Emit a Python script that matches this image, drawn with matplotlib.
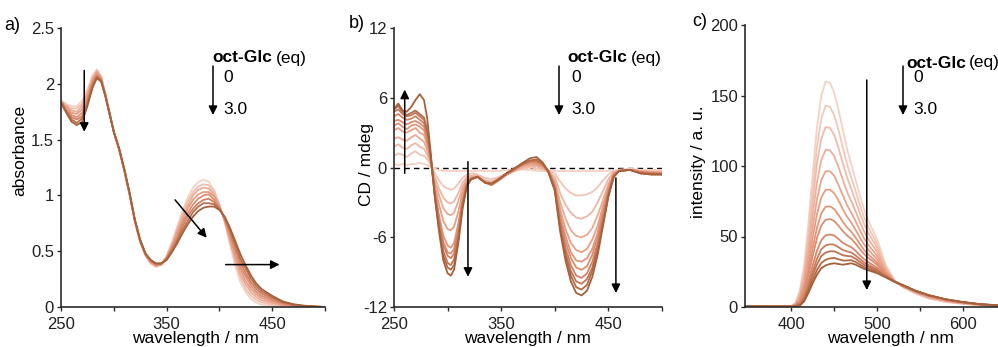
import numpy as np
import matplotlib
matplotlib.use("Agg")
import matplotlib.pyplot as plt
from matplotlib.colors import LinearSegmentedColormap

plt.rcParams['font.family'] = ['Liberation Sans', 'DejaVu Sans']
plt.rcParams['axes.unicode_minus'] = False

# ---------------- data ----------------
# a) absorbance, one row per wavelength, columns 0 eq ... 3.0 eq
abs_wl = [250, 255, 260, 265, 270, 275, 280, 284, 288, 292, 296, 300, 305, 310, 315,
          320, 325, 330, 335, 340, 345, 350, 355, 360, 365, 370, 375, 380, 385, 390,
          395, 400, 405, 410, 415, 420, 425, 430, 435, 440, 450, 460, 470, 480, 490, 500]
abs_rows = [
    [1.85, 1.85, 1.84, 1.84, 1.84, 1.84, 1.83, 1.83],
    [1.82, 1.81, 1.80, 1.79, 1.77, 1.76, 1.75, 1.74],
    [1.80, 1.78, 1.76, 1.74, 1.72, 1.70, 1.68, 1.66],
    [1.80, 1.78, 1.75, 1.73, 1.70, 1.68, 1.65, 1.63],
    [1.85, 1.82, 1.80, 1.77, 1.74, 1.71, 1.69, 1.66],
    [1.95, 1.93, 1.91, 1.89, 1.86, 1.84, 1.82, 1.80],
    [2.08, 2.06, 2.05, 2.03, 2.02, 2.00, 1.98, 1.97],
    [2.13, 2.12, 2.11, 2.10, 2.08, 2.07, 2.06, 2.05],
    [2.07, 2.06, 2.06, 2.05, 2.04, 2.03, 2.03, 2.02],
    [1.91, 1.91, 1.90, 1.90, 1.90, 1.90, 1.89, 1.89],
    [1.74, 1.74, 1.74, 1.74, 1.73, 1.73, 1.73, 1.73],
    [1.57, 1.57, 1.57, 1.57, 1.57, 1.57, 1.57, 1.57],
    [1.41, 1.41, 1.41, 1.41, 1.42, 1.42, 1.42, 1.42],
    [1.22, 1.22, 1.22, 1.22, 1.23, 1.23, 1.23, 1.23],
    [1.00, 1.00, 1.01, 1.01, 1.01, 1.01, 1.02, 1.02],
    [0.76, 0.76, 0.77, 0.77, 0.77, 0.77, 0.78, 0.78],
    [0.58, 0.58, 0.59, 0.59, 0.59, 0.59, 0.60, 0.60],
    [0.46, 0.46, 0.47, 0.47, 0.47, 0.47, 0.48, 0.48],
    [0.39, 0.39, 0.40, 0.40, 0.41, 0.41, 0.42, 0.42],
    [0.36, 0.36, 0.37, 0.37, 0.38, 0.38, 0.39, 0.39],
    [0.38, 0.38, 0.38, 0.38, 0.39, 0.39, 0.39, 0.39],
    [0.46, 0.45, 0.45, 0.44, 0.44, 0.43, 0.43, 0.42],
    [0.58, 0.57, 0.55, 0.54, 0.53, 0.52, 0.50, 0.49],
    [0.72, 0.70, 0.68, 0.66, 0.63, 0.61, 0.59, 0.57],
    [0.86, 0.83, 0.80, 0.77, 0.75, 0.72, 0.69, 0.66],
    [0.98, 0.95, 0.91, 0.88, 0.84, 0.81, 0.77, 0.74],
    [1.07, 1.03, 1.00, 0.96, 0.92, 0.88, 0.85, 0.81],
    [1.12, 1.08, 1.05, 1.01, 0.97, 0.93, 0.90, 0.86],
    [1.14, 1.10, 1.07, 1.03, 1.00, 0.96, 0.93, 0.89],
    [1.12, 1.09, 1.06, 1.03, 1.01, 0.97, 0.93, 0.90],
    [1.05, 1.03, 1.01, 0.99, 0.96, 0.94, 0.92, 0.90],
    [0.92, 0.91, 0.91, 0.90, 0.89, 0.88, 0.88, 0.87],
    [0.76, 0.77, 0.77, 0.78, 0.79, 0.80, 0.80, 0.81],
    [0.56, 0.58, 0.60, 0.62, 0.65, 0.67, 0.69, 0.71],
    [0.37, 0.40, 0.43, 0.46, 0.50, 0.53, 0.56, 0.59],
    [0.22, 0.26, 0.29, 0.33, 0.36, 0.40, 0.43, 0.47],
    [0.13, 0.16, 0.20, 0.23, 0.27, 0.30, 0.34, 0.37],
    [0.07, 0.10, 0.13, 0.16, 0.19, 0.22, 0.25, 0.28],
    [0.04, 0.064, 0.089, 0.113, 0.137, 0.161, 0.186, 0.21],
    [0.02, 0.04, 0.06, 0.08, 0.10, 0.12, 0.14, 0.16],
    [0.01, 0.023, 0.036, 0.049, 0.061, 0.074, 0.087, 0.10],
    [0.0, 0.007, 0.014, 0.021, 0.029, 0.036, 0.043, 0.05],
    [0.0, 0.004, 0.007, 0.011, 0.014, 0.018, 0.021, 0.025],
    [0.0, 0.002, 0.003, 0.005, 0.007, 0.009, 0.010, 0.012],
    [0.0, 0.001, 0.001, 0.002, 0.003, 0.004, 0.004, 0.005],
    [0.0, 0.0, 0.0, 0.0, 0.0, 0.0, 0.0, 0.0],
]

# b) CD, one row per wavelength, columns 0 eq ... 3.0 eq
cd_wl = [250, 254, 258, 262, 266, 270, 274, 278, 281, 284, 288, 292, 296, 300, 303, 306,
         310, 314, 318, 322, 328, 335, 341, 348, 355, 362, 370, 377, 383, 389, 394, 400,
         405, 410, 415, 420, 425, 430, 435, 440, 445, 450, 455, 460, 470, 480, 490, 500]
cd_rows = [
    [0.3, 1.0, 1.8, 2.5, 3.2, 3.6, 4.0, 4.4, 4.8, 5.0, 5.0],
    [0.2, 1.2, 2.0, 2.6, 3.4, 3.8, 4.1, 4.6, 5.0, 5.3, 5.5],
    [0.3, 1.1, 1.7, 2.4, 3.1, 3.5, 3.9, 4.3, 4.6, 4.8, 4.9],
    [0.2, 0.9, 1.6, 2.3, 3.0, 3.3, 3.7, 4.1, 4.4, 4.5, 4.8],
    [0.3, 1.2, 1.9, 2.6, 3.2, 3.6, 3.9, 4.2, 4.5, 4.7, 5.2],
    [0.3, 1.4, 2.1, 2.8, 3.4, 3.7, 4.0, 4.4, 4.7, 4.9, 5.8],
    [0.4, 1.1, 1.8, 2.5, 3.0, 3.5, 3.8, 4.1, 4.4, 4.6, 6.3],
    [0.3, 1.0, 1.6, 2.2, 2.8, 3.2, 3.5, 3.8, 4.1, 4.3, 5.8],
    [0.2, 0.7, 1.1, 1.5, 1.9, 2.3, 2.5, 2.8, 3.0, 3.2, 4.2],
    [0.1, 0.3, 0.4, 0.5, 0.6, 0.8, 0.9, 1.0, 1.1, 1.2, 1.5],
    [-0.1, -0.5, -0.8, -1.1, -1.5, -1.9, -2.0, -2.1, -2.3, -2.4, -2.5],
    [-0.2, -1.1, -1.8, -2.4, -3.2, -4.1, -4.4, -4.6, -5.0, -5.2, -5.5],
    [-0.3, -1.6, -2.6, -3.5, -4.6, -5.9, -6.4, -6.7, -7.2, -7.6, -8.0],
    [-0.3, -1.8, -3.0, -4.0, -5.3, -6.7, -7.3, -7.6, -8.2, -8.6, -9.1],
    [-0.3, -1.9, -3.1, -4.1, -5.4, -6.9, -7.4, -7.8, -8.4, -8.8, -9.3],
    [-0.3, -1.8, -2.9, -3.9, -5.1, -6.5, -7.0, -7.4, -7.9, -8.4, -8.8],
    [-0.3, -1.4, -2.2, -2.9, -3.8, -4.8, -5.2, -5.5, -5.9, -6.2, -6.5],
    [-0.3, -0.9, -1.3, -1.7, -2.1, -2.6, -2.8, -3.0, -3.2, -3.3, -3.5],
    [-0.3, -0.6, -0.8, -1.0, -1.1, -1.3, -1.4, -1.4, -1.5, -1.5, -1.6],
    [-0.3, -0.5, -0.7, -0.8, -0.9, -0.9, -1.0, -1.0, -1.0, -1.0, -1.0],
    [-0.3, -0.6, -0.7, -0.8, -0.8, -0.8, -0.8, -0.8, -0.8, -0.8, -0.8],
    [-0.3, -0.9, -1.1, -1.2, -1.3, -1.3, -1.3, -1.3, -1.3, -1.3, -1.3],
    [-0.3, -1.0, -1.2, -1.3, -1.4, -1.5, -1.5, -1.5, -1.4, -1.4, -1.4],
    [-0.3, -0.8, -0.9, -1.0, -1.0, -1.1, -1.1, -1.0, -1.0, -1.0, -1.0],
    [-0.2, -0.5, -0.6, -0.6, -0.6, -0.6, -0.6, -0.6, -0.5, -0.5, -0.5],
    [-0.2, -0.3, -0.3, -0.3, -0.2, -0.2, -0.2, -0.2, -0.1, -0.1, -0.1],
    [-0.2, -0.1, 0.0, 0.1, 0.2, 0.2, 0.3, 0.3, 0.3, 0.3, 0.4],
    [-0.2, 0.0, 0.1, 0.2, 0.3, 0.4, 0.5, 0.5, 0.6, 0.6, 0.8],
    [-0.3, -0.1, 0.1, 0.2, 0.3, 0.4, 0.5, 0.5, 0.6, 0.7, 0.9],
    [-0.3, -0.2, -0.1, 0.0, 0.1, 0.1, 0.2, 0.2, 0.3, 0.3, 0.4],
    [-0.3, -0.3, -0.3, -0.3, -0.3, -0.3, -0.3, -0.3, -0.3, -0.4, -0.4],
    [-0.3, -0.5, -0.8, -1.1, -1.3, -1.5, -1.6, -1.7, -1.8, -1.9, -2.0],
    [-0.3, -1.2, -2.2, -3.0, -3.6, -4.1, -4.4, -4.7, -5.0, -5.2, -5.5],
    [-0.3, -1.8, -3.2, -4.4, -5.3, -5.9, -6.4, -6.9, -7.3, -7.6, -8.0],
    [-0.3, -2.2, -3.9, -5.4, -6.5, -7.3, -7.8, -8.4, -8.9, -9.3, -9.8],
    [-0.3, -2.4, -4.3, -5.9, -7.1, -8.0, -8.6, -9.3, -9.8, -10.3, -10.8],
    [-0.3, -2.4, -4.4, -6.0, -7.3, -8.1, -8.8, -9.5, -10.0, -10.5, -11.0],
    [-0.3, -2.3, -4.2, -5.8, -7.0, -7.8, -8.5, -9.1, -9.6, -10.1, -10.6],
    [-0.3, -2.1, -3.8, -5.2, -6.2, -7.0, -7.5, -8.1, -8.6, -8.9, -9.4],
    [-0.3, -1.7, -3.0, -4.1, -5.0, -5.6, -6.0, -6.5, -6.8, -7.1, -7.5],
    [-0.3, -1.1, -2.0, -2.8, -3.3, -3.7, -4.0, -4.3, -4.6, -4.8, -5.0],
    [-0.3, -0.6, -1.0, -1.4, -1.7, -1.9, -2.0, -2.2, -2.3, -2.4, -2.5],
    [-0.3, -0.3, -0.4, -0.5, -0.5, -0.6, -0.6, -0.7, -0.7, -0.8, -0.8],
    [-0.2, -0.2, -0.2, -0.3, -0.3, -0.3, -0.3, -0.3, -0.3, -0.3, -0.3],
    [-0.1, -0.2, -0.2, -0.2, -0.2, -0.2, -0.2, -0.2, -0.2, -0.2, -0.2],
    [-0.2, -0.3, -0.3, -0.3, -0.4, -0.4, -0.4, -0.4, -0.5, -0.5, -0.5],
    [-0.2, -0.3, -0.4, -0.4, -0.4, -0.5, -0.5, -0.5, -0.5, -0.6, -0.6],
    [-0.2, -0.3, -0.4, -0.4, -0.5, -0.5, -0.5, -0.5, -0.6, -0.6, -0.6],
]

# c) fluorescence, one list per spectrum (0 eq first)
fl_wl = [345, 380, 400, 405, 410, 415, 420, 425, 430, 435, 440, 445, 450, 455, 460, 465,
         470, 475, 480, 485, 490, 500, 510, 520, 530, 545, 560, 580, 600, 620, 645]
fl_curves = [
    [0.5, 0.3, 0.5, 3, 12, 30, 60, 95, 128, 150, 160, 159, 152, 140, 126, 112, 101, 90, 79, 69, 61, 48, 30, 19, 14, 9.5, 6, 3.5, 2.2, 1.2, 0.6],
    [0.5, 0.3, 0.5, 2.7, 10.5, 26.6, 53.4, 84.7, 114.1, 133.8, 142.8, 142, 136, 125.5, 113.3, 101.2, 91.8, 82.1, 72.3, 63.5, 56.4, 44.8, 28.8, 18.9, 14.2, 9.8, 6.3, 3.8, 2.4, 1.3, 0.65],
    [0.5, 0.3, 0.5, 2.4, 9.3, 23.6, 47.6, 75.7, 102, 119.6, 127.6, 127.1, 122, 112.8, 102.2, 91.8, 83.6, 75.1, 66.5, 58.6, 52.3, 42, 27.8, 18.8, 14.4, 10, 6.6, 4, 2.5, 1.4, 0.7],
    [0.5, 0.3, 0.4, 2.1, 7.9, 20.3, 41.4, 66, 88.9, 104.4, 111.5, 111.2, 107, 99.3, 90.3, 81.7, 75, 67.7, 60.2, 53.4, 48, 39.1, 26.7, 18.6, 14.6, 10.2, 6.9, 4.2, 2.7, 1.5, 0.75],
    [0.5, 0.3, 0.4, 1.8, 6.6, 17.3, 35.6, 56.9, 76.8, 90.2, 96.3, 96.3, 93, 86.6, 79.2, 72.2, 66.8, 60.7, 54.4, 48.5, 43.9, 36.3, 25.6, 18.5, 14.7, 10.5, 7.2, 4.5, 2.8, 1.6, 0.8],
    [0.5, 0.3, 0.4, 1.5, 5.5, 14.7, 30.6, 49.1, 66.2, 77.8, 83.1, 83.3, 80.7, 75.5, 69.5, 64, 59.8, 54.7, 49.3, 44.3, 40.4, 33.9, 24.7, 18.4, 14.9, 10.7, 7.5, 4.7, 3, 1.7, 0.84],
    [0.5, 0.3, 0.4, 1.3, 4.5, 12.3, 25.9, 41.8, 56.4, 66.5, 71, 71.4, 69.5, 65.3, 60.5, 56.4, 53.3, 49.1, 44.6, 40.4, 37.1, 31.6, 23.9, 18.3, 15, 10.9, 7.7, 4.9, 3.1, 1.75, 0.87],
    [0.5, 0.3, 0.3, 1.1, 3.7, 10.4, 22.4, 36.3, 49, 57.9, 61.9, 62.4, 61, 57.7, 53.8, 50.7, 48.4, 44.9, 41, 37.4, 34.7, 30, 23.2, 18.2, 15.1, 11, 7.9, 5, 3.2, 1.8, 0.9],
    [0.5, 0.3, 0.3, 0.9, 2.8, 8.2, 18.2, 29.7, 40.1, 47.5, 50.8, 51.4, 50.7, 48.3, 45.6, 43.8, 42.4, 39.8, 36.7, 33.8, 31.7, 27.9, 22.5, 18.2, 15.3, 11.2, 8.1, 5.2, 3.3, 1.9, 0.93],
    [0.5, 0.3, 0.3, 0.8, 2.2, 6.8, 15.5, 25.5, 34.4, 40.9, 43.7, 44.5, 44.2, 42.4, 40.5, 39.4, 38.6, 36.5, 34, 31.6, 29.8, 26.6, 22, 18.1, 15.3, 11.3, 8.2, 5.3, 3.4, 1.9, 0.96],
    [0.5, 0.3, 0.3, 0.7, 1.8, 5.8, 13.5, 22.5, 30.4, 36.1, 38.6, 39.5, 39.5, 38.2, 36.7, 36.2, 35.9, 34.2, 32, 29.9, 28.5, 25.7, 21.6, 18.1, 15.4, 11.4, 8.3, 5.4, 3.4, 1.95, 0.97],
    [0.5, 0.3, 0.3, 0.6, 1.3, 4.8, 11.6, 19.4, 26.3, 31.3, 33.5, 34.5, 34.8, 33.9, 33, 33, 33.2, 31.9, 30.1, 28.3, 27.1, 24.7, 21.3, 18, 15.5, 11.5, 8.4, 5.4, 3.5, 2, 1],
    [0.5, 0.3, 0.3, 0.5, 1, 4, 10, 17, 23, 27.5, 29.5, 30.5, 31, 30.5, 30, 30.5, 31, 30, 28.5, 27, 26, 24, 21, 18, 15.5, 11.5, 8.5, 5.5, 3.5, 2, 1],
]

# ---------------- drawing ----------------
W, H = 998, 347
fig = plt.figure(figsize=(W / 100, H / 100), dpi=100)
cmap = LinearSegmentedColormap.from_list('titr', ['#f4d3c6', '#eaa58d', '#d98768', '#a5603c'])
AX = '#2b2b2b'
FS = 12      # tick labels
LFS = 12.5   # axis labels / legend


def add_ax(left, right, top, bottom):
    ax = fig.add_axes([left / W, 1 - bottom / H, (right - left) / W, (bottom - top) / H])
    for s in ('top', 'right'):
        ax.spines[s].set_visible(False)
    for s in ('left', 'bottom'):
        ax.spines[s].set_color(AX)
        ax.spines[s].set_linewidth(1.2)
    ax.tick_params(direction='out', length=3, width=1, color=AX, labelsize=FS,
                   labelcolor='#222222')
    ax.tick_params(axis='x', pad=4)
    ax.tick_params(axis='y', pad=2)
    return ax


def draw_set(ax, x, curves):
    n = len(curves)
    for i, y in enumerate(curves):
        ax.plot(x, y, color=cmap(i / (n - 1)), lw=1.3, solid_joinstyle='round')


def arrow(ax, tail, tip, coords='data'):
    ax.annotate('', xy=tip, xytext=tail, xycoords=coords, textcoords=coords,
                annotation_clip=False,
                arrowprops=dict(arrowstyle='-|>', color='black', lw=1.1,
                                mutation_scale=13, shrinkA=0, shrinkB=0))


def pix(x, y):
    return (x, H - y)


renderer = fig.canvas.get_renderer()


def legend(ax, x_bold, y_head, x_arrow, x_num, gap=4):
    t = fig.text(x_bold / W, 1 - y_head / H, 'oct-Glc', fontsize=LFS, fontweight='bold', va='center')
    bb = t.get_window_extent(renderer=renderer)
    fig.text((bb.x1 + gap) / W, 1 - y_head / H, '(eq)', fontsize=LFS, va='center')
    fig.text(x_num / W, 1 - 77 / H, '0', fontsize=LFS, va='center')
    fig.text(x_num / W, 1 - 110 / H, '3.0', fontsize=LFS, va='center')
    arrow(ax, pix(x_arrow, 66), pix(x_arrow, 115), coords='figure pixels')


# a) absorbance
ax1 = add_ax(61, 325, 28, 307)
draw_set(ax1, abs_wl, np.array(abs_rows).T)
ax1.set_xlim(250, 500)
ax1.set_ylim(0, 2.5)
ax1.set_xticks([250, 300, 350, 400, 450, 500])
ax1.set_xticklabels(['250', '', '350', '', '450', ''])
ax1.set_yticks([0, 0.5, 1, 1.5, 2, 2.5])
ax1.set_yticklabels(['0', '0.5', '1', '1.5', '2', '2.5'])
arrow(ax1, (272, 2.12), (272, 1.57))
arrow(ax1, (358, 0.96), (388, 0.62))
arrow(ax1, (406, 0.38), (457, 0.38))
legend(ax1, 212, 58, 213, 223)
fig.text(20 / W, 1 - 150 / H, 'absorbance', rotation=90, fontsize=LFS, ha='center', va='center')
fig.text(195 / W, 1 - 338 / H, 'wavelength / nm', fontsize=LFS, ha='center', va='center')
fig.text(4 / W, 1 - 26 / H, 'a)', fontsize=13, ha='left', va='center')

# b) CD
ax2 = add_ax(394, 662, 28, 307)
ax2.axhline(0, color='black', lw=1, ls=(0, (4, 3)), zorder=1)
draw_set(ax2, cd_wl, np.array(cd_rows).T)
ax2.set_xlim(250, 500)
ax2.set_ylim(-12, 12)
ax2.set_xticks([250, 300, 350, 400, 450, 500])
ax2.set_xticklabels(['250', '', '350', '', '450', ''])
ax2.set_yticks([-12, -6, 0, 6, 12])
arrow(ax2, (260, -0.5), (260, 6.7))
arrow(ax2, (319, 0.5), (319, -9.4))
arrow(ax2, (457, -0.9), (457, -10.8))
legend(ax2, 567, 58, 559, 571)
fig.text(367 / W, 1 - 165 / H, 'CD / mdeg', rotation=90, fontsize=LFS, ha='center', va='center')
fig.text(527 / W, 1 - 338 / H, 'wavelength / nm', fontsize=LFS, ha='center', va='center')
fig.text(349 / W, 1 - 24 / H, 'b)', fontsize=13, ha='left', va='center')

# c) fluorescence
ax3 = add_ax(745, 998, 25, 307)
draw_set(ax3, fl_wl, fl_curves)
ax3.set_xlim(346, 641)
ax3.set_ylim(0, 200)
ax3.set_xticks([400, 450, 500, 550, 600])
ax3.set_xticklabels(['400', '', '500', '', '600'])
ax3.set_yticks([0, 50, 100, 150, 200])
arrow(ax3, (488, 161), (488, 12))
legend(ax3, 906, 63, 903, 913, gap=3)
fig.text(698 / W, 1 - 162 / H, 'intensity / a. u.', rotation=90, fontsize=LFS, ha='center', va='center')
fig.text(890 / W, 1 - 338 / H, 'wavelength / nm', fontsize=LFS, ha='center', va='center')
fig.text(692 / W, 1 - 22 / H, 'c)', fontsize=13, ha='left', va='center')

fig.savefig('out.png', dpi=100)
